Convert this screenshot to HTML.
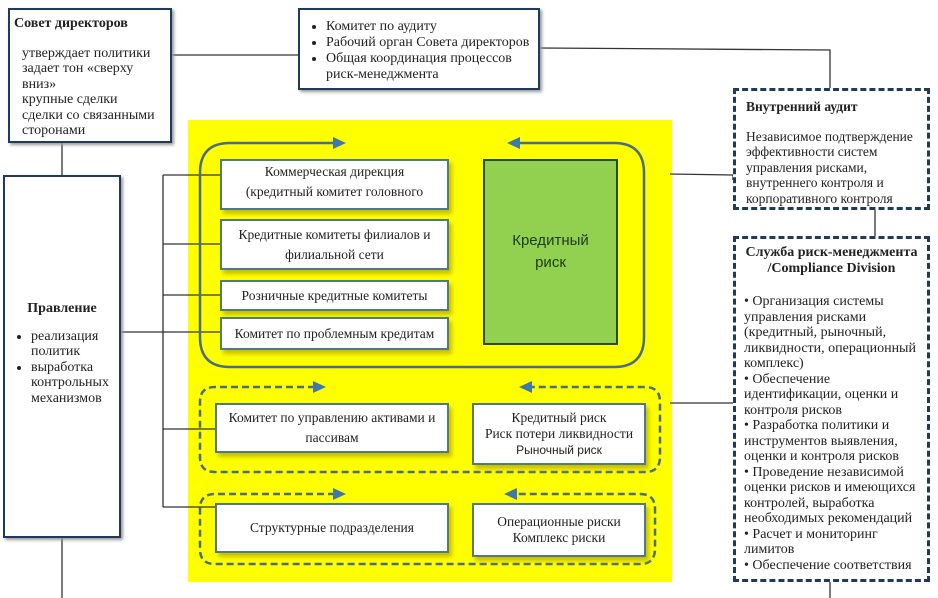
<!DOCTYPE html>
<html><head><meta charset="utf-8"><style>
body{margin:0;width:938px;height:598px;background:#fff;position:relative;overflow:hidden;font-family:"Liberation Serif","Noto Serif CJK SC",serif;color:#222}
.b{position:absolute;box-sizing:border-box;background:#fff}
.nav{border:2.5px solid #1f3a5f;box-shadow:2px 2px 3px #999}
.tb{border:2.5px solid #4d7b85;text-align:center;font-size:13.5px;line-height:20px;display:flex;align-items:center;justify-content:center;box-shadow:3px 4px 4px #c9c000}
.ds{border:3px dashed #1f3a5f;background:#fff}
p{margin:0}
ul{margin:0;padding-left:18px}
</style></head><body>
<div style="position:absolute;left:188px;top:120px;width:484px;height:462px;background:#ffff00"></div>
<svg width="938" height="598" style="position:absolute;left:0;top:0">
<g stroke="#333" stroke-width="1.3" fill="none">
<line x1="172" y1="55" x2="298" y2="55"/>
<polyline points="540,48 830,50 830,88"/>
<line x1="875" y1="210" x2="875" y2="236"/>
<line x1="830" y1="582" x2="830" y2="598"/>
<line x1="62" y1="143" x2="62" y2="175"/>
<line x1="62" y1="538" x2="62" y2="598"/>
<polyline points="670,174 733,175 733,180"/>
<line x1="670" y1="403" x2="733" y2="403"/>
<line x1="163" y1="175" x2="163" y2="507"/>
<line x1="163" y1="175" x2="220" y2="175"/>
<line x1="163" y1="244" x2="220" y2="244"/>
<line x1="163" y1="295" x2="220" y2="295"/>
<line x1="120" y1="332" x2="220" y2="332"/>
<line x1="163" y1="429" x2="215" y2="429"/>
<line x1="163" y1="507" x2="215" y2="507"/>
</g>
<g stroke="#4a6e80" stroke-width="2.5" fill="none">
<path d="M335 143 H230 Q200 143 200 173 V337 Q200 367 230 367 H614 Q644 367 644 337 V173 Q644 143 614 143 H520"/>
</g>
<g stroke="#4a6e80" stroke-width="2.5" fill="none" stroke-dasharray="7,4">
<path d="M315 387 H215 Q200 387 200 402 V457 Q200 472 215 472 H645 Q660 472 660 457 V402 Q660 387 645 387 H532"/>
<path d="M335 494 H215 Q200 494 200 509 V549 Q200 564 215 564 H640 Q655 564 655 549 V509 Q655 494 640 494 H517"/>
</g>
<g fill="#3f79a8">
<polygon points="333,137 346,143 333,149"/>
<polygon points="520,137 507,143 520,149"/>
<polygon points="313,381 326,387 313,393"/>
<polygon points="532,381 519,387 532,393"/>
<polygon points="333,488 346,494 333,500"/>
<polygon points="517,488 504,494 517,500"/>
</g>
</svg>

<div class="b nav" style="left:8px;top:8px;width:164px;height:135px;font-size:14px;line-height:15.5px;padding:6px 4px">
<p style="font-weight:bold">Совет директоров</p>
<p style="margin-top:14px;padding-left:8px">утверждает политики<br>задает тон «сверху<br>вниз»<br>крупные сделки<br>сделки со связанными сторонами</p>
</div>
<div class="b nav" style="left:298px;top:8px;width:242px;height:82px;font-size:14px;line-height:16px;padding:9px 6px 0 8px">
<ul><li>Комитет по аудиту</li><li>Рабочий орган Совета директоров</li><li>Общая координация процессов<br>риск-менеджмента</li></ul>
</div>
<div class="b nav" style="left:3px;top:175px;width:118px;height:363px;font-size:14px;line-height:15.5px;padding:124px 4px 0 4px">
<p style="font-weight:bold;text-align:center">Правление</p>
<ul style="margin-top:12px;padding-left:22px"><li>реализация политик</li><li>выработка контрольных механизмов</li></ul>
</div>
<div class="b ds" style="left:733px;top:88px;width:197px;height:122px;font-size:13.5px;line-height:15.5px;padding:8px 10px">
<p style="font-weight:bold">Внутренний аудит</p>
<p style="margin-top:14px">Независимое подтверждение эффективности систем управления рисками, внутреннего контроля и корпоративного контроля</p>
</div>
<div class="b ds" style="left:733px;top:236px;width:197px;height:346px;font-size:14px;line-height:15.5px;padding:6px 8px;overflow:hidden">
<p style="font-weight:bold;text-align:center">Служба риск-менеджмента /Compliance Division</p>
<p style="margin-top:18px">• Организация системы управления рисками (кредитный, рыночный, ликвидности, операционный комплекс)<br>• Обеспечение идентификации, оценки и контроля рисков<br>• Разработка политики и инструментов выявления, оценки и контроля рисков<br>• Проведение независимой оценки рисков и имеющихся контролей, выработка необходимых рекомендаций<br>• Расчет и мониторинг лимитов<br>• Обеспечение соответствия</p>
</div>

<div class="b tb" style="left:220px;top:159px;width:229px;height:51px;padding-bottom:6px"><div>Коммерческая дирекция<br>(кредитный комитет головного</div></div>
<div class="b tb" style="left:220px;top:219px;width:229px;height:51px"><div>Кредитные комитеты филиалов и<br>филиальной сети</div></div>
<div class="b tb" style="left:220px;top:280px;width:229px;height:31px"><div>Розничные кредитные комитеты</div></div>
<div class="b tb" style="left:220px;top:317px;width:229px;height:33px"><div>Комитет по проблемным кредитам</div></div>
<div class="b" style="left:483px;top:159px;width:135px;height:186px;background:#92d050;border:2.5px solid #2b4a2b;display:flex;align-items:center;justify-content:center;text-align:center;font-family:'Liberation Sans',sans-serif;font-size:15px;line-height:22px;color:#1e3a1e"><div>Кредитный<br>риск</div></div>
<div class="b tb" style="left:215px;top:403px;width:234px;height:50px"><div>Комитет по управлению активами и<br>пассивам</div></div>
<div class="b tb" style="left:472px;top:403px;width:174px;height:62px;line-height:16px"><div>Кредитный риск<br>Риск потери ликвидности<br><span style="font-family:'Liberation Sans',sans-serif;font-size:12px">Рыночный риск</span></div></div>
<div class="b tb" style="left:215px;top:503px;width:234px;height:50px"><div>Структурные подразделения</div></div>
<div class="b tb" style="left:472px;top:503px;width:174px;height:54px;line-height:16px"><div>Операционные риски<br>Комплекс риски</div></div>
</body></html>
